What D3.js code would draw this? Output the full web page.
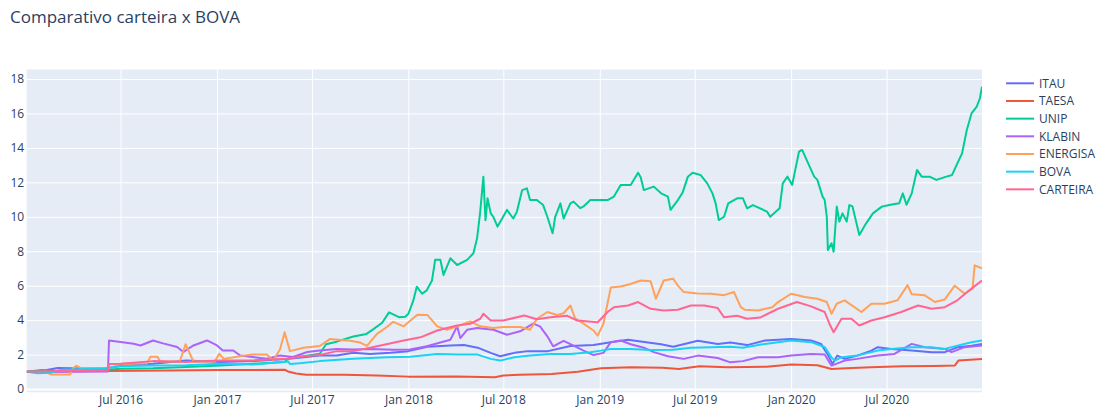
<!DOCTYPE html>
<html>
<head>
<meta charset="utf-8">
<script src="https://cdn.jsdelivr.net/npm/d3@7"></script>
<style>
  body { margin: 0; background: #fff; }
  text { font-family: "Open Sans", verdana, arial, sans-serif; fill: #2a3f5f; }
</style>
</head>
<body>
<div id="chart"></div>
<script>
// Dados
const seriesNames = ["ITAU", "TAESA", "UNIP", "KLABIN", "ENERGISA", "BOVA", "CARTEIRA"];
const seriesColors = ["#636efa", "#EF553B", "#00cc96", "#ab63fa", "#FFA15A", "#19d3f3", "#FF6692"];

const itau = [
  ["2016-01-04",1.00],["2016-02-01",1.05],["2016-03-03",1.22],["2016-04-01",1.20],["2016-06-01",1.18],
  ["2016-07-01",1.35],["2016-09-01",1.47],["2016-11-03",1.66],["2017-01-07",1.57],["2017-03-10",1.62],
  ["2017-05-14",1.75],["2017-06-15",1.84],["2017-07-16",1.95],["2017-08-17",1.94],["2017-09-18",2.10],
  ["2017-10-20",2.04],["2017-11-28",2.10],["2018-01-01",2.20],["2018-02-06",2.45],["2018-03-22",2.52],
  ["2018-04-17",2.55],["2018-05-13",2.40],["2018-06-07",2.10],["2018-06-25",1.90],["2018-07-22",2.10],
  ["2018-08-17",2.20],["2018-09-24",2.20],["2018-11-06",2.50],["2018-12-20",2.55],["2019-01-28",2.75],
  ["2019-02-24",2.86],["2019-04-03",2.70],["2019-04-28",2.60],["2019-05-21",2.45],["2019-07-07",2.80],
  ["2019-08-14",2.62],["2019-09-07",2.70],["2019-10-09",2.55],["2019-11-12",2.82],["2020-01-01",2.91],
  ["2020-02-08",2.82],["2020-02-27",2.62],["2020-03-10",2.04],["2020-03-20",1.46],["2020-03-29",1.94],
  ["2020-04-12",1.75],["2020-05-06",1.94],["2020-06-02",2.23],["2020-06-14",2.43],["2020-07-10",2.33],
  ["2020-08-18",2.23],["2020-09-25",2.14],["2020-10-20",2.14],["2020-11-14",2.43],["2020-12-10",2.52],
  ["2020-12-30",2.62]
];

const taesa = [
  ["2016-01-04",1.00],["2016-03-01",1.02],["2016-06-01",1.05],["2016-10-01",1.08],["2017-01-01",1.10],
  ["2017-05-10",1.12],["2017-05-18",1.00],["2017-06-01",0.90],["2017-06-20",0.83],["2017-09-01",0.83],
  ["2017-11-01",0.78],["2018-01-01",0.72],["2018-04-01",0.73],["2018-06-15",0.68],["2018-07-01",0.78],
  ["2018-08-01",0.83],["2018-10-01",0.87],["2018-11-20",1.00],["2019-01-03",1.20],["2019-03-01",1.26],
  ["2019-05-01",1.24],["2019-06-01",1.16],["2019-07-10",1.32],["2019-09-01",1.26],["2019-10-10",1.28],
  ["2019-11-15",1.30],["2020-01-01",1.42],["2020-02-20",1.38],["2020-03-18",1.16],["2020-04-15",1.20],
  ["2020-06-01",1.26],["2020-08-01",1.32],["2020-10-01",1.34],["2020-11-08",1.36],["2020-11-15",1.65],
  ["2020-12-30",1.75]
];

const unip = [
  ["2016-01-04",1.00],["2016-02-01",1.10],["2016-03-01",1.05],["2016-04-01",1.10],["2016-06-01",1.10],
  ["2016-07-01",1.18],["2016-09-01",1.20],["2016-11-03",1.28],["2017-01-07",1.37],["2017-03-10",1.47],
  ["2017-05-10",1.57],["2017-05-20",1.86],["2017-06-15",1.90],["2017-07-16",2.05],["2017-07-28",2.60],
  ["2017-08-17",2.75],["2017-09-18",3.05],["2017-10-13",3.20],["2017-10-25",3.45],["2017-11-12",3.85],
  ["2017-11-25",4.45],["2017-12-14",4.17],["2017-12-26",4.20],["2018-01-01",4.37],["2018-01-10",5.10],
  ["2018-01-17",5.94],["2018-01-27",5.53],["2018-02-05",5.73],["2018-02-15",6.30],["2018-02-21",7.50],
  ["2018-03-03",7.50],["2018-03-09",6.62],["2018-03-22",7.59],["2018-04-04",7.20],["2018-04-23",7.50],
  ["2018-05-05",7.88],["2018-05-12",8.75],["2018-05-18",10.30],["2018-05-24",12.33],["2018-05-28",9.80],
  ["2018-06-01",11.07],["2018-06-07",10.20],["2018-06-12",10.00],["2018-06-20",9.43],["2018-06-25",9.70],
  ["2018-07-08",10.40],["2018-07-20",9.90],["2018-07-27",10.30],["2018-08-06",11.55],["2018-08-15",11.65],
  ["2018-08-21",10.97],["2018-09-03",10.97],["2018-09-15",10.68],["2018-09-23",10.00],["2018-10-03",9.04],
  ["2018-10-08",10.00],["2018-10-18",10.78],["2018-10-24",9.90],["2018-11-06",10.78],["2018-11-12",10.88],
  ["2018-11-25",10.50],["2018-12-01",10.60],["2018-12-14",10.97],["2019-01-03",10.97],["2019-01-16",10.97],
  ["2019-01-28",11.17],["2019-02-10",11.85],["2019-03-01",11.85],["2019-03-15",12.56],["2019-03-20",12.30],
  ["2019-03-26",11.55],["2019-04-14",11.75],["2019-04-28",11.36],["2019-05-11",11.17],["2019-05-16",10.40],
  ["2019-05-30",10.97],["2019-06-08",11.40],["2019-06-18",12.33],["2019-06-27",12.56],["2019-07-12",12.43],
  ["2019-07-25",11.94],["2019-08-04",11.36],["2019-08-10",10.78],["2019-08-16",9.81],["2019-08-26",10.00],
  ["2019-09-03",10.78],["2019-09-20",11.07],["2019-10-01",11.07],["2019-10-09",10.49],["2019-10-20",10.68],
  ["2019-11-16",10.30],["2019-11-22",10.00],["2019-12-10",10.49],["2019-12-16",11.94],["2019-12-25",12.33],
  ["2020-01-03",11.85],["2020-01-16",13.78],["2020-01-22",13.88],["2020-02-04",13.00],["2020-02-14",12.33],
  ["2020-02-20",12.14],["2020-03-01",11.17],["2020-03-05",10.97],["2020-03-09",10.00],["2020-03-11",8.07],
  ["2020-03-18",8.46],["2020-03-22",7.97],["2020-03-28",10.59],["2020-04-02",9.72],["2020-04-08",10.20],
  ["2020-04-16",9.72],["2020-04-21",10.68],["2020-04-27",10.60],["2020-05-10",8.94],["2020-05-23",9.62],
  ["2020-06-05",10.20],["2020-06-22",10.59],["2020-07-06",10.68],["2020-07-25",10.78],["2020-08-01",11.36],
  ["2020-08-08",10.70],["2020-08-18",11.36],["2020-08-28",12.72],["2020-09-06",12.33],["2020-09-21",12.33],
  ["2020-10-04",12.14],["2020-10-23",12.33],["2020-11-03",12.43],["2020-11-13",13.10],["2020-11-22",13.68],
  ["2020-12-01",15.04],["2020-12-10",16.00],["2020-12-20",16.40],["2020-12-26",16.88],["2020-12-30",17.55]
];

const klabin = [
  ["2016-01-04",1.00],["2016-03-01",1.00],["2016-06-07",1.02],["2016-06-09",2.82],["2016-07-01",2.73],
  ["2016-07-26",2.63],["2016-08-08",2.53],["2016-09-01",2.82],["2016-09-20",2.65],["2016-10-17",2.44],
  ["2016-10-29",2.15],["2016-11-17",2.53],["2016-12-13",2.82],["2017-01-01",2.53],["2017-01-12",2.24],
  ["2017-02-01",2.24],["2017-02-14",1.95],["2017-03-10",1.86],["2017-04-06",1.76],["2017-05-01",1.95],
  ["2017-05-26",1.86],["2017-06-22",2.15],["2017-07-16",2.24],["2017-08-17",2.33],["2017-09-18",2.30],
  ["2017-10-20",2.33],["2017-12-03",2.28],["2018-01-04",2.30],["2018-02-05",2.48],["2018-03-22",2.86],
  ["2018-04-04",3.64],["2018-04-10",2.96],["2018-04-23",3.44],["2018-05-12",3.54],["2018-06-12",3.44],
  ["2018-07-08",3.15],["2018-08-02",3.35],["2018-08-27",3.80],["2018-09-09",3.64],["2018-09-23",3.06],
  ["2018-10-04",2.48],["2018-10-12",2.60],["2018-10-24",2.80],["2018-11-12",2.52],["2018-12-01",2.23],
  ["2018-12-20",1.97],["2019-01-08",2.10],["2019-01-22",2.72],["2019-02-10",2.82],["2019-03-01",2.60],
  ["2019-03-26",2.40],["2019-04-14",2.14],["2019-05-11",1.90],["2019-06-10",1.75],["2019-07-07",1.94],
  ["2019-08-14",1.80],["2019-09-07",1.55],["2019-10-01",1.62],["2019-10-30",1.84],["2019-12-07",1.84],
  ["2020-01-01",1.94],["2020-02-08",2.04],["2020-03-05",2.00],["2020-03-18",1.36],["2020-04-12",1.65],
  ["2020-05-06",1.75],["2020-06-14",1.94],["2020-07-16",2.04],["2020-08-18",2.62],["2020-09-12",2.43],
  ["2020-10-20",2.33],["2020-11-02",2.14],["2020-11-27",2.43],["2020-12-30",2.52]
];

const energisa = [
  ["2016-01-04",1.00],["2016-02-10",1.00],["2016-02-19",0.85],["2016-03-27",0.85],["2016-04-01",1.20],
  ["2016-04-08",1.35],["2016-04-18",1.20],["2016-06-09",1.20],["2016-07-01",1.45],["2016-08-21",1.50],
  ["2016-08-27",1.88],["2016-09-09",1.88],["2016-09-15",1.60],["2016-10-22",1.60],["2016-11-02",2.60],
  ["2016-11-08",2.20],["2016-11-17",1.60],["2016-12-28",1.60],["2017-01-05",2.05],["2017-01-14",1.75],
  ["2017-02-23",1.95],["2017-03-10",2.00],["2017-04-06",2.00],["2017-04-18",1.66],["2017-05-01",2.30],
  ["2017-05-10",3.30],["2017-05-20",2.20],["2017-06-15",2.40],["2017-07-16",2.50],["2017-08-04",2.90],
  ["2017-09-12",2.80],["2017-10-01",2.70],["2017-10-14",2.50],["2017-11-02",3.20],["2017-11-21",3.60],
  ["2017-12-03",3.90],["2017-12-23",3.64],["2018-01-18",4.31],["2018-02-06",4.30],["2018-02-25",3.64],
  ["2018-03-16",3.44],["2018-04-04",3.64],["2018-04-29",3.93],["2018-05-18",3.64],["2018-06-12",3.54],
  ["2018-07-01",3.60],["2018-08-02",3.60],["2018-08-21",3.44],["2018-09-03",4.08],["2018-09-23",4.47],
  ["2018-10-12",4.30],["2018-10-24",4.40],["2018-11-06",4.85],["2018-11-15",4.10],["2018-12-01",3.80],
  ["2018-12-20",3.40],["2018-12-28",3.10],["2019-01-08",3.80],["2019-01-22",5.90],["2019-02-10",5.95],
  ["2019-03-01",6.10],["2019-03-20",6.30],["2019-04-08",6.25],["2019-04-18",5.24],["2019-05-03",6.30],
  ["2019-05-21",6.40],["2019-05-30",6.00],["2019-06-10",5.63],["2019-07-07",5.55],["2019-08-01",5.53],
  ["2019-08-26",5.45],["2019-09-14",5.63],["2019-09-27",4.75],["2019-10-05",4.60],["2019-10-30",4.56],
  ["2019-11-26",4.75],["2019-12-07",5.05],["2020-01-01",5.53],["2020-01-27",5.34],["2020-02-20",5.24],
  ["2020-03-09",5.05],["2020-03-18",4.37],["2020-03-28",4.95],["2020-04-12",5.15],["2020-05-14",4.47],
  ["2020-06-02",4.95],["2020-06-27",4.95],["2020-07-22",5.15],["2020-08-10",6.03],["2020-08-18",5.50],
  ["2020-09-12",5.44],["2020-10-01",5.05],["2020-10-20",5.20],["2020-11-08",6.00],["2020-11-27",5.53],
  ["2020-12-12",5.83],["2020-12-16",7.18],["2020-12-30",7.00]
];

const bova = [
  ["2016-01-04",1.00],["2016-01-25",0.92],["2016-02-20",0.95],["2016-03-10",1.12],["2016-04-15",1.15],
  ["2016-06-01",1.20],["2016-07-01",1.32],["2016-09-01",1.37],["2016-11-03",1.38],["2017-01-07",1.47],
  ["2017-03-10",1.42],["2017-05-17",1.60],["2017-05-20",1.45],["2017-06-08",1.50],["2017-07-16",1.62],
  ["2017-09-18",1.76],["2017-11-21",1.84],["2018-01-04",1.88],["2018-02-25",2.04],["2018-04-04",2.00],
  ["2018-05-13",2.00],["2018-06-07",1.75],["2018-06-25",1.65],["2018-07-22",1.84],["2018-08-21",1.94],
  ["2018-09-29",2.04],["2018-11-06",2.04],["2018-12-14",2.14],["2019-01-03",2.23],["2019-01-22",2.33],
  ["2019-03-01",2.33],["2019-04-08",2.27],["2019-05-21",2.28],["2019-06-24",2.39],["2019-08-01",2.43],
  ["2019-09-07",2.46],["2019-10-01",2.39],["2019-11-12",2.62],["2020-01-01",2.82],["2020-02-08",2.72],
  ["2020-03-05",2.43],["2020-03-18",1.84],["2020-03-24",1.65],["2020-04-06",1.84],["2020-05-06",1.94],
  ["2020-06-14",2.23],["2020-07-10",2.33],["2020-08-18",2.43],["2020-09-25",2.43],["2020-10-20",2.33],
  ["2020-11-13",2.52],["2020-12-10",2.72],["2020-12-30",2.82]
];

const carteira = [
  ["2016-01-04",1.00],["2016-03-01",1.05],["2016-06-07",1.08],["2016-06-09",1.45],["2016-07-01",1.47],
  ["2016-09-01",1.62],["2016-11-03",1.57],["2017-01-07",1.66],["2017-03-10",1.66],["2017-05-14",1.76],
  ["2017-06-15",1.90],["2017-07-16",1.98],["2017-08-17",2.20],["2017-09-18",2.20],["2017-10-20",2.40],
  ["2017-12-23",2.82],["2018-01-24",3.00],["2018-02-25",3.40],["2018-04-04",3.69],["2018-04-29",3.79],
  ["2018-05-18",4.08],["2018-05-24",4.37],["2018-06-07",3.98],["2018-07-01",3.98],["2018-08-10",4.27],
  ["2018-09-03",4.05],["2018-09-29",4.17],["2018-10-31",4.25],["2018-11-19",3.98],["2018-12-28",3.88],
  ["2019-01-16",4.47],["2019-01-28",4.75],["2019-02-24",4.85],["2019-03-15",5.05],["2019-04-08",4.66],
  ["2019-05-03",4.56],["2019-05-30",4.60],["2019-06-24",4.85],["2019-07-19",4.85],["2019-08-14",4.70],
  ["2019-08-26",4.17],["2019-09-20",4.25],["2019-10-09",4.08],["2019-11-03",4.15],["2019-12-07",4.66],
  ["2020-01-12",5.05],["2020-02-08",4.80],["2020-03-05",4.47],["2020-03-14",3.79],["2020-03-22",3.30],
  ["2020-04-06",4.08],["2020-04-25",4.08],["2020-05-10",3.69],["2020-06-02",3.98],["2020-06-27",4.17],
  ["2020-07-29",4.47],["2020-08-30",4.85],["2020-09-25",4.66],["2020-10-20",4.75],["2020-11-13",5.15],
  ["2020-12-10",5.83],["2020-12-30",6.30]
];

const yTicks = [0, 2, 4, 6, 8, 10, 12, 14, 16, 18];
const xTicks = ["2016-07-01", "2017-01-01", "2017-07-01", "2018-01-01", "2018-07-01",
                "2019-01-01", "2019-07-01", "2020-01-01", "2020-07-01"];

const allSeries = [itau, taesa, unip, klabin, energisa, bova, carteira];

// Configuração
const svgWidth = 1100, svgHeight = 407;
const plot = { left: 26.7, right: 982, top: 69.5, bottom: 392.3 };
const parse = d3.timeParse("%Y-%m-%d");

const svg = d3.select("#chart")
    .append("svg")
    .attr("width", svgWidth)
    .attr("height", svgHeight);

const x = d3.scaleTime()
    .domain([parse("2016-01-04"), parse("2020-12-30")])
    .range([plot.left, plot.right]);

const y = d3.scaleLinear()
    .domain([-0.19, 18.55])
    .range([plot.bottom, plot.top]);

// Fundo da área do gráfico
svg.append("rect")
    .attr("x", plot.left)
    .attr("y", plot.top)
    .attr("width", plot.right - plot.left)
    .attr("height", plot.bottom - plot.top)
    .attr("fill", "#E5ECF6");

// Eixos e grades
const xAxis = svg.append("g")
    .attr("transform", `translate(0, ${plot.bottom})`)
    .call(d3.axisBottom(x)
        .tickValues(xTicks.map(parse))
        .tickFormat(d3.timeFormat("%b %Y"))
        .tickSizeInner(-(plot.bottom - plot.top))
        .tickSizeOuter(0)
        .tickPadding(3));
xAxis.select(".domain").remove();
xAxis.selectAll("line").attr("stroke", "#fff").attr("stroke-width", 1);
xAxis.selectAll("text").attr("font-size", 12).attr("fill", "#2a3f5f");

const yAxis = svg.append("g")
    .attr("transform", `translate(${plot.left}, 0)`)
    .call(d3.axisLeft(y)
        .tickValues(yTicks)
        .tickSizeInner(-(plot.right - plot.left))
        .tickSizeOuter(0)
        .tickPadding(2.5));
yAxis.select(".domain").remove();
yAxis.selectAll("line")
    .attr("stroke", "#fff")
    .attr("stroke-width", d => d === 0 ? 2 : 1);
yAxis.selectAll("text").attr("font-size", 12).attr("fill", "#2a3f5f");

// Linhas
svg.append("clipPath").attr("id", "clip")
    .append("rect")
    .attr("x", plot.left).attr("y", plot.top)
    .attr("width", plot.right - plot.left)
    .attr("height", plot.bottom - plot.top);

const line = d3.line()
    .x(d => x(parse(d[0])))
    .y(d => y(d[1]));

svg.append("g")
    .attr("clip-path", "url(#clip)")
    .selectAll("path")
    .data(allSeries)
    .enter().append("path")
    .attr("d", line)
    .attr("fill", "none")
    .attr("stroke", (d, i) => seriesColors[i])
    .attr("stroke-width", 2)
    .attr("stroke-linejoin", "round");

// Legenda
const legend = svg.append("g")
    .selectAll("g")
    .data(seriesNames)
    .enter().append("g")
    .attr("transform", (d, i) => `translate(1006, ${83.3 + i * 17.67})`);

legend.append("line")
    .attr("x1", 0).attr("x2", 28)
    .attr("stroke", (d, i) => seriesColors[i])
    .attr("stroke-width", 2);

legend.append("text")
    .attr("x", 33)
    .attr("dy", "0.35em")
    .attr("font-size", 12)
    .text(d => d);

// Título
svg.append("text")
    .attr("x", 10)
    .attr("y", 23)
    .attr("font-size", 17)
    .text("Comparativo carteira x BOVA");
</script>
</body>
</html>
